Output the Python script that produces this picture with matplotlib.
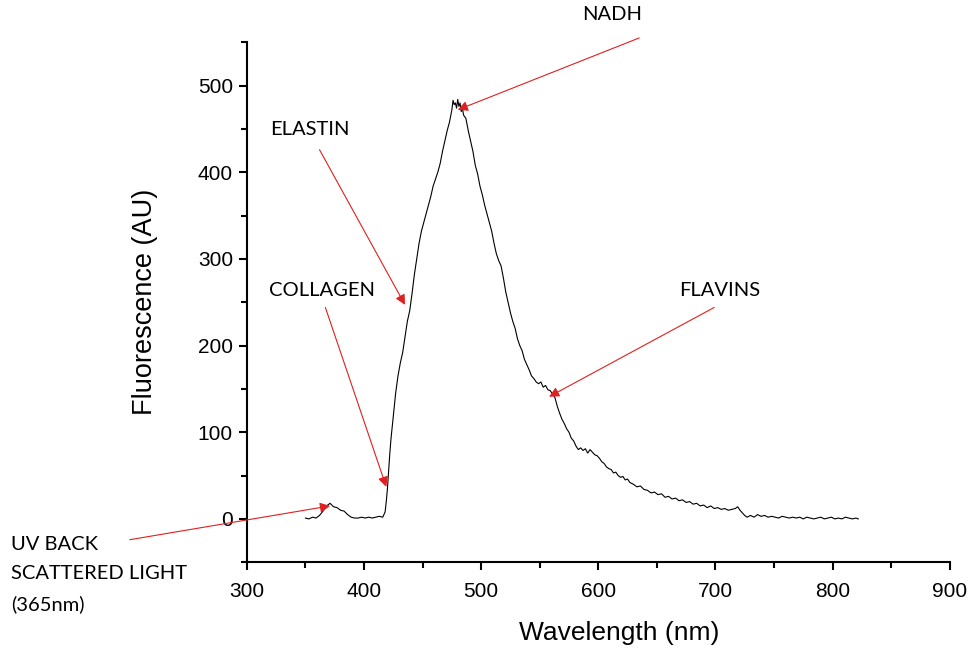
import matplotlib.pyplot as plt
from matplotlib.ticker import MultipleLocator

plt.rcParams["font.family"] = "Liberation Sans"

# emission spectrum, read point by point
wavelength = [350, 353, 356, 359, 362, 365, 368, 371, 374, 377, 380, 383, 386, 389, 392, 395, 398,
              401, 404, 407, 410, 413, 416, 418, 419, 420, 421, 422, 423, 425, 427, 429, 431, 433,
              435, 437, 439, 441, 443, 445, 447, 449, 451, 453, 455, 457, 459, 461, 463, 465, 467,
              469, 471, 473, 475, 476, 477, 478, 479, 480, 481, 482, 483, 484, 485, 487, 489, 491,
              493, 495, 497, 499, 501, 503, 505, 507, 509, 511, 513, 515, 517, 519, 521, 523, 525,
              527, 529, 531, 533, 535, 537, 539, 541, 543, 545, 547, 549, 551, 553, 555, 557, 559,
              561, 563, 565, 567, 569, 571, 573, 575, 577, 579, 581, 583, 585, 587, 589, 591, 593,
              595, 597, 599, 601, 603, 605, 607, 609, 611, 613, 615, 617, 619, 621, 623, 625, 627,
              630, 633, 636, 639, 642, 645, 648, 651, 654, 657, 660, 663, 666, 669, 672, 675, 678,
              681, 684, 687, 690, 693, 696, 699, 702, 705, 708, 711, 714, 717, 719, 721, 723, 725,
              727, 730, 733, 736, 739, 742, 745, 748, 751, 754, 757, 760, 763, 766, 769, 772, 775,
              778, 781, 784, 787, 790, 793, 796, 799, 802, 805, 808, 811, 814, 817, 820, 822]
fluorescence = [1, 0, 2, 1, 4, 9, 15, 18, 14, 13, 10, 9, 5, 2, 1, 1, 2,
                1, 2, 1, 2, 3, 2, 8, 20, 35, 55, 75, 92, 118, 145, 165, 180, 192,
                210, 228, 240, 260, 282, 300, 318, 332, 342, 352, 362, 372, 384, 392, 400, 410, 424,
                436, 448, 458, 472, 483, 478, 480, 474, 484, 476, 480, 470, 474, 466, 462, 448, 436,
                424, 408, 398, 384, 374, 362, 352, 342, 332, 318, 306, 298, 292, 278, 262, 250, 238,
                228, 220, 208, 200, 194, 184, 178, 172, 165, 162, 158, 156, 158, 152, 154, 149, 148,
                144, 140, 130, 122, 115, 110, 104, 100, 93, 90, 84, 80, 82, 79, 81, 76, 80,
                77, 74, 73, 70, 66, 64, 60, 58, 57, 53, 54, 50, 48, 49, 45, 46, 42,
                40, 37, 38, 34, 33, 30, 31, 28, 29, 25, 26, 23, 24, 21, 22, 19, 20,
                17, 18, 15, 16, 13, 15, 12, 13, 11, 12, 10, 11, 12, 14, 10, 7, 4,
                2, 4, 2, 5, 3, 4, 2, 3, 2, 1, 3, 2, 1, 2, 1, 2, 0,
                2, 1, 0, 1, 2, 0, 1, 2, 0, 1, 0, 2, 1, 0, 1, 0]

# labels with arrow tip, arrow tail and text anchor, in data units
labels = ["NADH", "ELASTIN", "COLLAGEN", "FLAVINS", "UV BACK\nSCATTERED LIGHT\n(365nm)"]
tips = [(480, 472), (435, 247), (419, 37), (558, 141), (371, 15)]
tails = [(635, 555), (362, 426), (367, 244), (699, 244), (200, -24)]
text_pos = [(612, 582), (354, 449), (364, 264), (704, 264), (99, -20)]

fig = plt.figure(figsize=(9.72, 6.5), dpi=100)
ax = fig.add_axes([0.254, 0.135, 0.723, 0.8])

ax.plot(wavelength, fluorescence, color="black", lw=0.8)

ax.set_xlim(300, 900)
ax.set_ylim(-50, 550)
ax.xaxis.set_major_locator(MultipleLocator(100))
ax.xaxis.set_minor_locator(MultipleLocator(50))
ax.yaxis.set_major_locator(MultipleLocator(100))
ax.yaxis.set_minor_locator(MultipleLocator(50))
ax.tick_params(which="major", direction="out", length=6, width=1.5, labelsize=15)
ax.tick_params(axis="x", which="major", pad=8)
ax.tick_params(axis="y", which="major", pad=4)
ax.tick_params(which="minor", direction="out", length=4, width=1.5)

for side in ["top", "right"]:
    ax.spines[side].set_visible(False)
for side in ["left", "bottom"]:
    ax.spines[side].set_linewidth(1.5)

ax.set_xlabel("Wavelength (nm)", fontsize=19, va="center")
ax.set_ylabel("Fluorescence (AU)", fontsize=19.5, va="center")
ax.xaxis.set_label_coords(0.53, -0.137)
ax.yaxis.set_label_coords(-0.145, 0.5)

for i, lab in enumerate(labels):
    ax.annotate("", xy=tips[i], xytext=tails[i], annotation_clip=False,
                arrowprops=dict(arrowstyle="-|>", color="#e02020", lw=0.8,
                                mutation_scale=15, shrinkA=0, shrinkB=0))
    if i == 4:
        ax.text(text_pos[i][0], text_pos[i][1], lab, ha="left", va="top",
                family="Lato", fontsize=14.5, linespacing=1.85, clip_on=False)
    else:
        ax.text(text_pos[i][0], text_pos[i][1], lab, ha="center", va="center",
                family="Lato", fontsize=14.5, clip_on=False)

fig.savefig("out.png", dpi=100)
